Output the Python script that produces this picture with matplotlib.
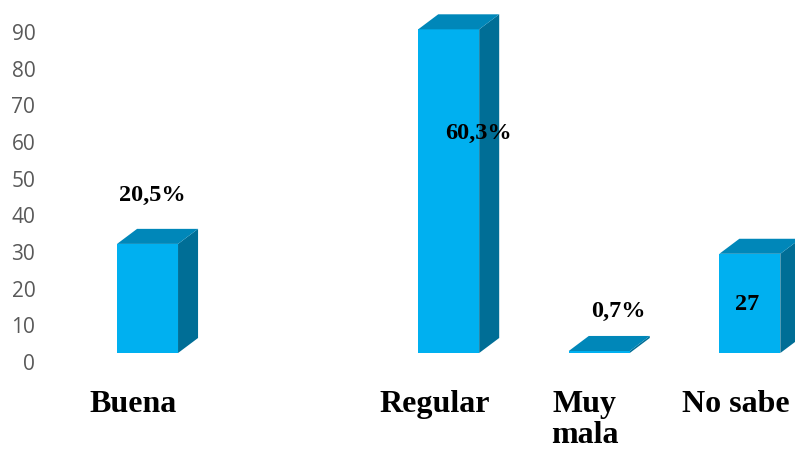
import numpy as np
import matplotlib.pyplot as plt
from matplotlib.patches import Polygon

# data
categories = ["Buena", "", "Regular", "Muy\nmala", "No sabe"]
values = [32.2, np.nan, 90.7, 3.0, 29.5]
labels = ["20,5%", "", "60,3%", "0,7%", "27"]

# label placement (x offset from bar, y in data units)
lab_dx = [0.03, 0, 0.2, 0.13, -0.02]
lab_y = [45.5, 0, 62.4, 13.9, 15.8]

front_c = "#00B0F0"
top_c = "#0087B9"
side_c = "#006E96"

floor = 2.45      # 3D floor thickness
w = 0.405         # front face width
dx, dy = 0.133, 4.1   # depth offset

fig = plt.figure(figsize=(7.95, 4.5), dpi=100)
ax = fig.add_axes([45/795, (450-362)/450, 750/795, 362/450])
ax.set_xlim(-0.681, 4.30)
ax.set_ylim(0, 98.7)

x = np.arange(len(categories))
vals = np.array(values, dtype=float)
mask = ~np.isnan(vals)

ax.bar(x[mask], vals[mask] - floor, bottom=floor, width=w, color=front_c,
       edgecolor="none", zorder=3)

for xi, v in zip(x[mask], vals[mask]):
    l, r = xi - w/2, xi + w/2
    side = Polygon([(r, floor), (r + dx, floor + dy), (r + dx, v + dy), (r, v)],
                   closed=True, fc=side_c, ec="none", zorder=2, clip_on=False)
    top = Polygon([(l, v), (l + dx, v + dy), (r + dx, v + dy), (r, v)],
                  closed=True, fc=top_c, ec="none", zorder=4, clip_on=False)
    ax.add_patch(side)
    ax.add_patch(top)

for i, t in enumerate(labels):
    if t:
        ax.text(x[i] + lab_dx[i], lab_y[i], t, ha="center", va="center",
                fontsize=17.5, fontweight="bold", family="Liberation Serif",
                color="black", zorder=5)

ax.set_yticks(np.arange(0, 100, 10))
ax.tick_params(axis="y", length=0, pad=7, labelsize=15, labelcolor="#595959")
for lab in ax.get_yticklabels():
    lab.set_family("Open Sans")

ax.set_xticks(x - 0.095)
ax.set_xticklabels(categories, fontsize=23, fontweight="bold",
                   family="Liberation Serif", linespacing=1.12)
for lab in ax.get_xticklabels():
    lab.set_multialignment("center")
ax.tick_params(axis="x", length=0, pad=20)

for s in ax.spines.values():
    s.set_visible(False)

fig.savefig("out.png", dpi=100)
